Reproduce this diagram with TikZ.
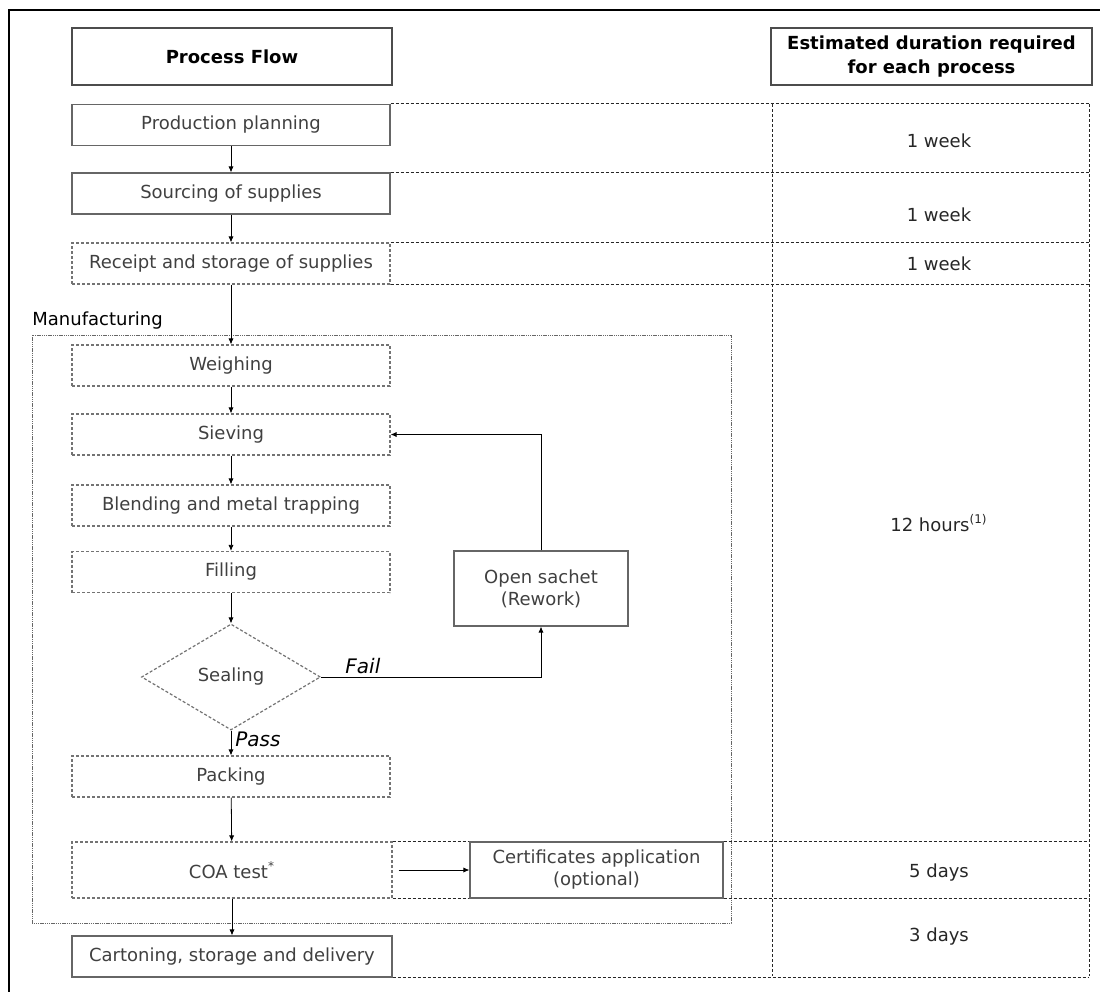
\documentclass[tikz,border=0pt]{standalone}
\usepackage{fontspec}
\setmainfont{DejaVu Sans}
\usepackage{tikz}
\usetikzlibrary{shapes,arrows.meta,positioning,calc}

\begin{document}
\begin{tikzpicture}[x=0.5pt, y=-0.5pt, font=\fontsize{9}{11}\selectfont,
    solidbox/.style={draw=black!60, line width=0.6pt, text=black!75, minimum width=159pt, minimum height=20.5pt, inner sep=0pt, align=center},
    dashbox/.style={solidbox, draw=black!55, dash pattern=on 1.5pt off 1pt},
    hdrbox/.style={draw=black!70, line width=0.6pt, font=\bfseries\fontsize{9}{12}\selectfont, minimum height=28.5pt, inner sep=0pt, align=center},
    decision/.style={diamond, draw=black!55, dash pattern=on 1.5pt off 1pt, line width=0.6pt, text=black!75, minimum width=89.5pt, minimum height=53pt, inner sep=0pt},
    tabline/.style={draw=black!85, dash pattern=on 1.5pt off 1pt, line width=0.5pt},
    mfgline/.style={draw=black!60, dash pattern=on 0.7pt off 0.4pt, line width=0.4pt},
    flow/.style={-{Latex[length=3pt,width=2.6pt]}, line width=0.4pt, black},
    dur/.style={text=black!85}]

    \useasboundingbox (0,0) rectangle (1100,992);

    % Outer frame
    \draw[line width=0.8pt] (9,992) -- (9,10) -- (1100,10);

    % Headers
    \node[hdrbox, minimum width=160pt] (hdrflow) at (232,56.5) {Process Flow};
    \node[hdrbox, minimum width=160.5pt] (hdrtime) at (931.5,56.5) {Estimated duration required\\for each process};

    % Manufacturing frame
    \draw[mfgline] (32,335) rectangle (731,923);
    \node[anchor=base west, inner sep=0pt] (mfg) at (32,325) {Manufacturing};

    % Process steps
    \node[solidbox] (plan) at (231,125) {Production planning};
    \node[solidbox] (src) at (231,193.5) {Sourcing of supplies};
    \node[dashbox] (rcpt) at (231,263.5) {Receipt and storage of supplies};
    \node[dashbox] (weigh) at (231,365.5) {Weighing};
    \node[dashbox] (sieve) at (231,434.5) {Sieving};
    \node[dashbox] (blend) at (231,505.5) {Blending and metal trapping};
    \node[dashbox] (fill) at (231,572) {Filling};
    \node[decision] (seal) at (231,677) {Sealing};
    \node[solidbox, minimum width=87pt, minimum height=37.5pt] (open) at (541,588.5) {Open sachet\\(Rework)};
    \node[dashbox] (pack) at (231,776.5) {Packing};
    \node[dashbox, minimum width=160pt, minimum height=28pt] (coa) at (232,870) {COA test\textsuperscript{*}};
    \node[solidbox, minimum width=126.5pt, minimum height=28pt, fill=white] (cert) at (596.5,870) {Certificates application\\(optional)};
    \node[solidbox, minimum width=160pt] (carton) at (232,956.5) {Cartoning, storage and delivery};

    % Duration table
    \coordinate (colL) at (772,104);
    \coordinate (colR) at (1089,104);
    \coordinate (tabBot) at (1089,976);
    \draw[tabline] (plan.north east) -- (plan.north east -| colR);
    \draw[tabline] (src.north east) -- (src.north east -| colR);
    \draw[tabline] (rcpt.north east) -- (rcpt.north east -| colR);
    \draw[tabline] (rcpt.south east) -- (rcpt.south east -| colR);
    \draw[tabline] (coa.north east) -- (cert.north west);
    \draw[tabline] (coa.south east) -- (cert.south west);
    \draw[tabline] (cert.north east) -- (cert.north east -| colR);
    \draw[tabline] (cert.south east) -- (cert.south east -| colR);
    \draw[tabline] (carton.south east) -- (carton.south east -| colR);
    \draw[tabline] (colL) -- (colL |- tabBot);
    \draw[tabline] (colR) -- (tabBot);

    \node[dur] (d1) at (939,141) {1 week};
    \node[dur] (d2) at (939,215) {1 week};
    \node[dur] (d3) at (939,264) {1 week};
    \node[dur] (d4) at (939,523) {12 hours\textsuperscript{(1)}};
    \node[dur] (d5) at (939,873) {5 days};
    \node[dur] (d6) at (939,937) {3 days};

    % Connectors
    \draw[flow] (plan) -- (src);
    \draw[flow] (src) -- (rcpt);
    \draw[flow] (rcpt) -- (weigh);
    \draw[flow] (weigh) -- (sieve);
    \draw[flow] (sieve) -- (blend);
    \draw[flow] (blend) -- (fill);
    \draw[flow] (fill) -- (seal.north);
    \draw[flow] (seal.south) -- node[right, pos=0.35, inner sep=2pt, font=\itshape] {Pass} (pack.north);
    \draw[flow] (pack) -- (coa);
    \draw[flow] (coa) -- (carton);
    \draw[flow] (seal.east) -- node[above, pos=0.19, inner sep=1.5pt, font=\itshape] {Fail} (seal.east -| open.south) -- (open.south);
    \draw[flow] (open.north) -- (open.north |- sieve.east) -- (sieve.east);
    \draw[flow] ([xshift=3pt]coa.east) -- (cert.west);
\end{tikzpicture}
\end{document}
